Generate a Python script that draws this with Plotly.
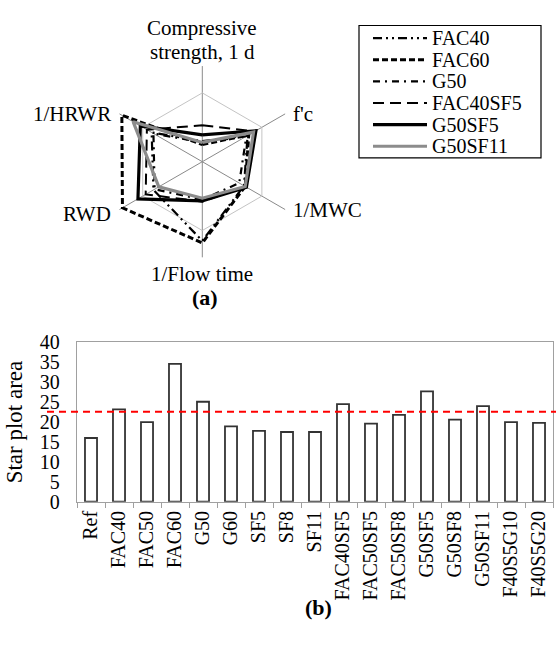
import plotly.graph_objects as go

# ---------------- data ----------------
radar_axes = ["Compressive strength, 1 d", "f'c", "1/MWC", "1/Flow time", "RWD", "1/HRWR"]
FAC40 = [0.30, 0.76, 0.70, 1.15, 0.82, 0.85]
FAC60 = [0.25, 0.78, 0.72, 1.18, 1.34, 1.35]
G50 = [0.28, 0.74, 0.62, 0.55, 0.80, 0.82]
FAC40SF5 = [0.53, 0.88, 0.72, 0.58, 0.95, 0.93]
G50SF5 = [0.39, 0.90, 0.74, 0.57, 1.08, 1.04]
G50SF11 = [0.28, 0.86, 0.72, 0.53, 0.73, 1.16]

bar_categories = ["Ref", "FAC40", "FAC50", "FAC60", "G50", "G60", "SF5", "SF8", "SF11",
                  "FAC40SF5", "FAC50SF5", "FAC50SF8", "G50SF5", "G50SF8", "G50SF11",
                  "F40S5G10", "F40S5G20"]
star_area = [16.0, 23.2, 20.0, 34.6, 25.1, 18.9, 17.8, 17.5, 17.5,
             24.5, 19.6, 21.8, 27.7, 20.6, 24.0, 20.0, 19.8]
reference_line = 22.6
y_ticks = [0, 5, 10, 15, 20, 25, 30, 35, 40]

FONT = "Liberation Serif"

series = [
    ("FAC40", FAC40, dict(color="black", width=2.2, dash="9px,4px,2px,4px,2px,4px")),
    ("FAC60", FAC60, dict(color="black", width=3, dash="6px,3px")),
    ("G50", G50, dict(color="black", width=2.2, dash="7px,5px,2px,5px")),
    ("FAC40SF5", FAC40SF5, dict(color="black", width=2, dash="11px,6px")),
    ("G50SF5", G50SF5, dict(color="black", width=3.2)),
    ("G50SF11", G50SF11, dict(color="#8c8c8c", width=3.2)),
]

W, H = 559, 648
cx, cy, R = 202.3, 156.0, 99.0


def px(x):
    return x / W


def py(y):
    return 1 - y / H


fig = go.Figure()
for i, (name, vals, line) in enumerate(series):
    fig.add_trace(go.Scatterpolar(
        r=vals + [vals[0]], theta=radar_axes + [radar_axes[0]],
        mode="lines", name=name, line=line, subplot="polar", showlegend=False,
    ))
    # legend sample drawn on a hidden helper axis
    fig.add_trace(go.Scatter(
        x=[0, 1], y=[i, i], mode="lines", line=line, showlegend=False,
        xaxis="x2", yaxis="y2", hoverinfo="skip", cliponaxis=False,
    ))

fig.add_trace(go.Bar(
    x=bar_categories, y=star_area, showlegend=False,
    marker=dict(color="white", line=dict(color="#333333", width=1.8)),
    width=0.43, xaxis="x", yaxis="y",
))

annotations = []
# radar axis labels
label_pos = [
    ("Compressive", cx, 18, "center"),
    ("strength, 1 d", cx, 42, "center"),
    ("f'c", 291, 107, "left"),
    ("1/MWC", 291, 206, "left"),
    ("1/Flow time", cx, 272, "center"),
    ("RWD", 113, 210, "right"),
    ("1/HRWR", 113, 107, "right"),
]
for txt, x, y, anc in label_pos:
    annotations.append(dict(text=txt, x=px(x), y=py(y), xref="paper", yref="paper",
                            xanchor=anc, yanchor="middle", showarrow=False,
                            font=dict(family=FONT, size=21, color="black")))
# legend texts
for i, (name, _, _) in enumerate(series):
    annotations.append(dict(text=name, x=px(430), y=i, xref="paper", yref="y2",
                            xanchor="left", yanchor="middle", showarrow=False,
                            font=dict(family=FONT, size=20, color="black")))
annotations += [
    dict(text="<b>(a)</b>", x=px(205), y=py(297), xref="paper", yref="paper",
         showarrow=False, font=dict(family=FONT, size=22, color="black")),
    dict(text="<b>(b)</b>", x=px(318), y=py(632), xref="paper", yref="paper",
         showarrow=False, font=dict(family=FONT, size=22, color="black")),
]

fig.update_layout(
    width=W, height=H, autosize=False,
    margin=dict(l=0, r=0, t=0, b=0),
    paper_bgcolor="white", plot_bgcolor="rgba(0,0,0,0)",
    font=dict(family=FONT, color="black", size=20),
    showlegend=False,
    polar=dict(
        domain=dict(x=[px(cx - R), px(cx + R)], y=[py(cy + R), py(cy - R)]),
        bgcolor="white",
        gridshape="linear",
        radialaxis=dict(range=[0, 1.39], tickvals=[1.0], showticklabels=False,
                        showline=False, ticks="", gridcolor="#c4c4c4", gridwidth=1.3),
        angularaxis=dict(rotation=90, direction="clockwise", showline=False,
                         gridcolor="#8a8a8a", gridwidth=1.3, ticks="",
                         showticklabels=False),
    ),
    xaxis2=dict(domain=[px(373), px(427)], range=[0, 1], anchor="y2", visible=False,
                fixedrange=True),
    yaxis2=dict(domain=[py(151.2), py(16.8)], range=[5.5, -0.5], anchor="x2", visible=False,
                fixedrange=True),
    xaxis=dict(
        domain=[px(77), px(553)], anchor="y",
        showline=True, linecolor="#a0a0a0", linewidth=1.3, mirror=True,
        ticks="outside", tickson="boundaries", ticklen=5, tickcolor="#a0a0a0",
        tickangle=-90, tickfont=dict(family=FONT, size=20, color="black"),
        showgrid=False,
    ),
    yaxis=dict(
        domain=[py(508), py(343)], anchor="x",
        range=[0, 40], tickvals=y_ticks, showgrid=False,
        showline=True, linecolor="#a0a0a0", linewidth=1.3, mirror=True,
        ticks="", ticklabelstandoff=12, tickfont=dict(family=FONT, size=20, color="black"),
        title=dict(text="Star plot area", font=dict(family=FONT, size=23, color="black"), standoff=10),
    ),
    bargap=0.57,
    shapes=[
        dict(type="line", xref="paper", yref="y", x0=px(47), x1=px(556),
             y0=reference_line, y1=reference_line, layer="above",
             line=dict(color="red", width=2, dash="7px,5px")),
        dict(type="rect", xref="paper", yref="paper", x0=px(359), x1=px(541),
             y0=py(152), y1=py(15), line=dict(color="black", width=1.2)),
    ],
    annotations=annotations,
)

fig.write_html("out.html")
